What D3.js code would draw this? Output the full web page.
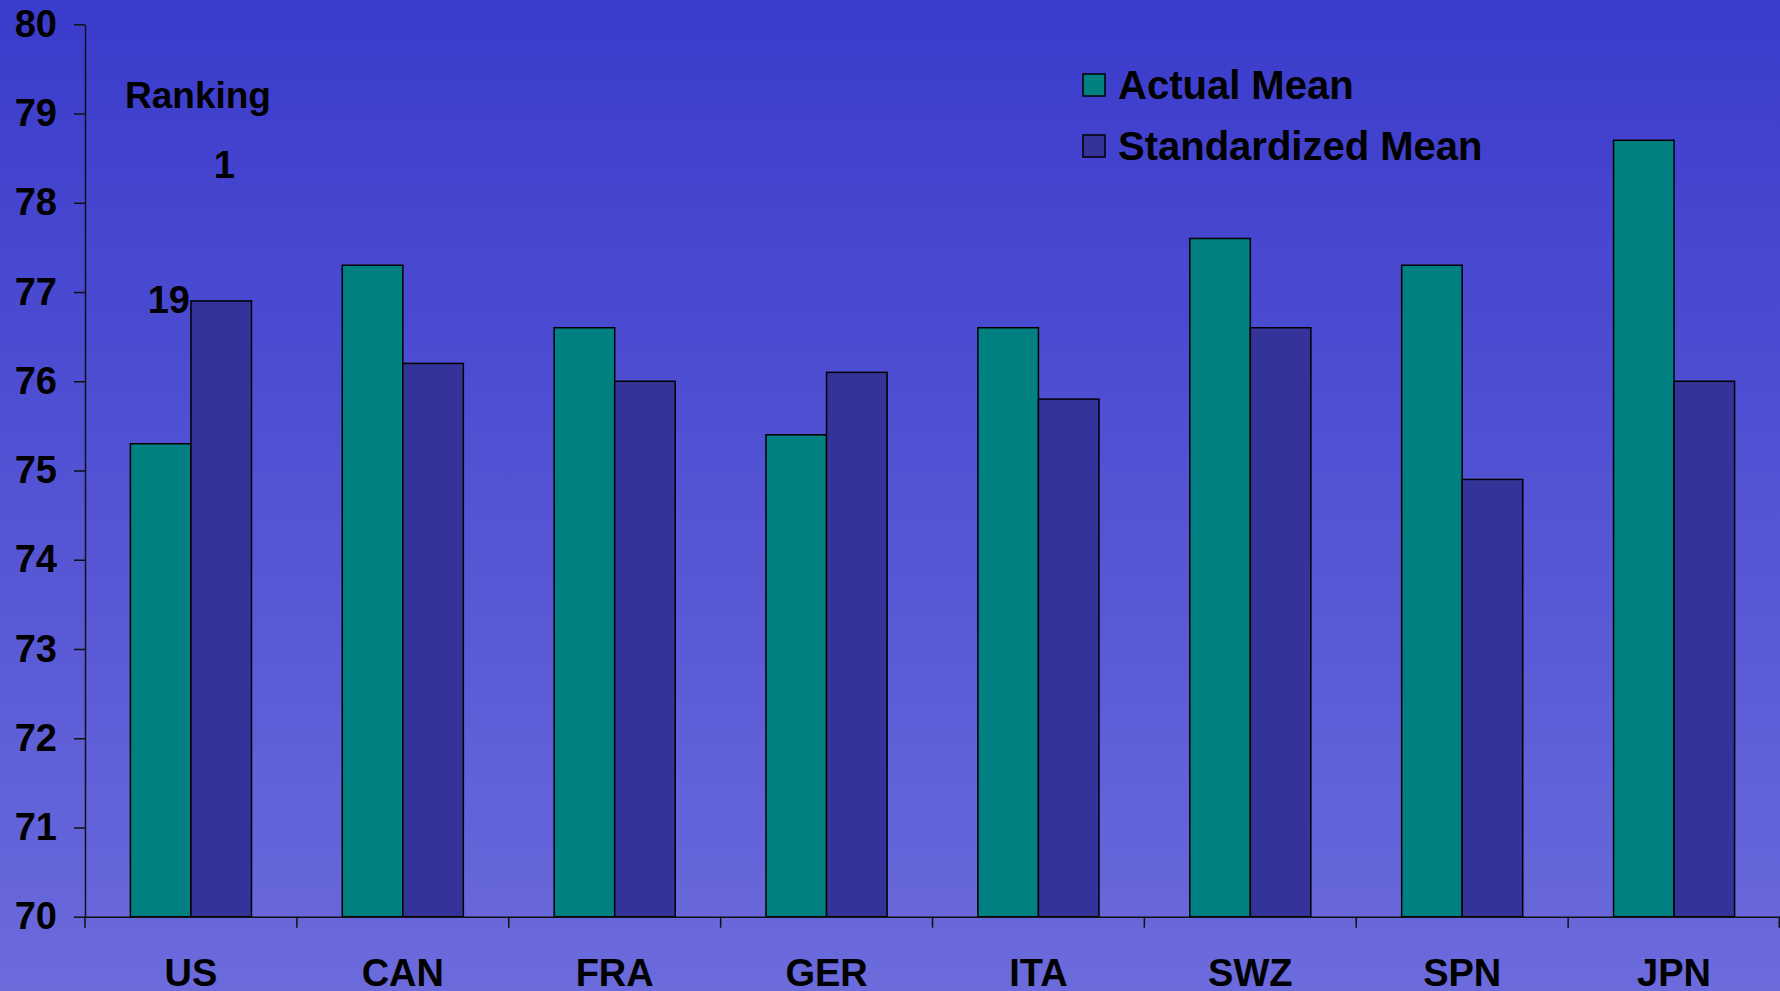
<!DOCTYPE html>
<html>
<head>
<meta charset="utf-8">
<script src="https://cdn.jsdelivr.net/npm/d3@7"></script>
<style>
  html, body { margin: 0; padding: 0; overflow: hidden; }
  text { font-family: "Liberation Sans", Arial, sans-serif; font-weight: bold; fill: #000; }
</style>
</head>
<body>
<script>
// data
let countries = ["US", "CAN", "FRA", "GER", "ITA", "SWZ", "SPN", "JPN"]
let seriesNames = ["Actual Mean", "Standardized Mean"]
let actualMean = [75.3, 77.3, 76.6, 75.4, 76.6, 77.6, 77.3, 78.7]
let standardizedMean = [76.9, 76.2, 76.0, 76.1, 75.8, 76.6, 74.9, 76.0]
let yTicks = [70, 71, 72, 73, 74, 75, 76, 77, 78, 79, 80]
let colors = ["#008080", "#333399"]

let w = 1780, h = 991
let margin = {left: 85, right: 0, top: 24.3, bottom: 74.3}

let svg = d3.select("body").append("svg")
    .attr("width", w)
    .attr("height", h)

// background gradient
let grad = svg.append("defs").append("linearGradient")
    .attr("id", "bg")
    .attr("x1", 0).attr("y1", 0).attr("x2", 0).attr("y2", 1)
grad.append("stop").attr("offset", "0%").attr("stop-color", "#3b3bcc")
grad.append("stop").attr("offset", "100%").attr("stop-color", "#6b6bdc")
svg.append("rect").attr("width", w).attr("height", h).attr("fill", "url(#bg)")

let x = d3.scaleBand()
    .domain(countries)
    .range([margin.left, w - margin.right])
    .padding(0)

let xInner = d3.scaleBand()
    .domain(seriesNames)
    .range([0, x.bandwidth()])
    .paddingInner(0)
    .paddingOuter(0.75)

let y = d3.scaleLinear()
    .domain([70, 80])
    .range([h - margin.bottom, margin.top])

let table = countries.map((c, i) => ({
    country: c,
    values: [
        {name: seriesNames[0], value: actualMean[i], color: colors[0]},
        {name: seriesNames[1], value: standardizedMean[i], color: colors[1]}
    ]
}))

// bars
let groups = svg.selectAll("g.grp")
    .data(table)
    .enter()
    .append("g")
    .attr("class", "grp")
    .attr("transform", d => "translate(" + x(d.country) + ",0)")

groups.selectAll("rect")
    .data(d => d.values)
    .enter()
    .append("rect")
    .attr("x", d => xInner(d.name))
    .attr("y", d => y(d.value))
    .attr("width", xInner.bandwidth())
    .attr("height", d => y(70) - y(d.value))
    .attr("fill", d => d.color)
    .attr("stroke", "#000")
    .attr("stroke-width", 1.5)

// y axis
let yAxis = d3.axisLeft(y).tickValues(yTicks).tickSize(11).tickSizeOuter(0).tickPadding(17)
let gy = svg.append("g")
    .attr("transform", "translate(" + margin.left + ",0)")
    .call(yAxis)
gy.selectAll("text").style("font-size", "38px")
gy.selectAll("line, path").attr("stroke", "#111").attr("stroke-width", 1.5)

// x axis
let xAxis = d3.axisBottom(x).tickSize(0).tickSizeOuter(0).tickPadding(42)
let gx = svg.append("g")
    .attr("transform", "translate(0," + y(70) + ")")
    .call(xAxis)
gx.selectAll("text").style("font-size", "38px").attr("dy", "0.71em")
gx.select("path").attr("stroke", "#111").attr("stroke-width", 1.5)

// band boundary ticks
svg.append("g").selectAll("line")
    .data(countries.concat(["end"]))
    .enter()
    .append("line")
    .attr("x1", d => d == "end" ? w - margin.right - 0.75 : x(d))
    .attr("x2", d => d == "end" ? w - margin.right - 0.75 : x(d))
    .attr("y1", y(70))
    .attr("y2", y(70) + 11)
    .attr("stroke", "#111")
    .attr("stroke-width", 1.5)

// ranking annotation
svg.append("text")
    .attr("x", 125)
    .attr("y", 108)
    .style("font-size", "37px")
    .text("Ranking")

let usX = x("US")
svg.append("text")
    .attr("x", usX + xInner(seriesNames[1]) + xInner.bandwidth() / 2 + 3)
    .attr("y", y(78.28))
    .attr("text-anchor", "middle")
    .style("font-size", "38px")
    .text("1")

svg.append("text")
    .attr("x", usX + xInner(seriesNames[1]) - 1)
    .attr("y", y(76.9) + 12)
    .attr("text-anchor", "end")
    .style("font-size", "38px")
    .text("19")

// legend
let legend = svg.append("g").attr("transform", "translate(1083,74)")
let li = legend.selectAll("g")
    .data(seriesNames)
    .enter()
    .append("g")
    .attr("transform", (d, i) => "translate(0," + i * 61 + ")")
li.append("rect")
    .attr("width", 22)
    .attr("height", 22)
    .attr("fill", (d, i) => colors[i])
    .attr("stroke", "#000")
    .attr("stroke-width", 1.5)
li.append("text")
    .attr("x", 35)
    .attr("y", 25)
    .style("font-size", "40px")
    .text(d => d)
</script>
</body>
</html>
